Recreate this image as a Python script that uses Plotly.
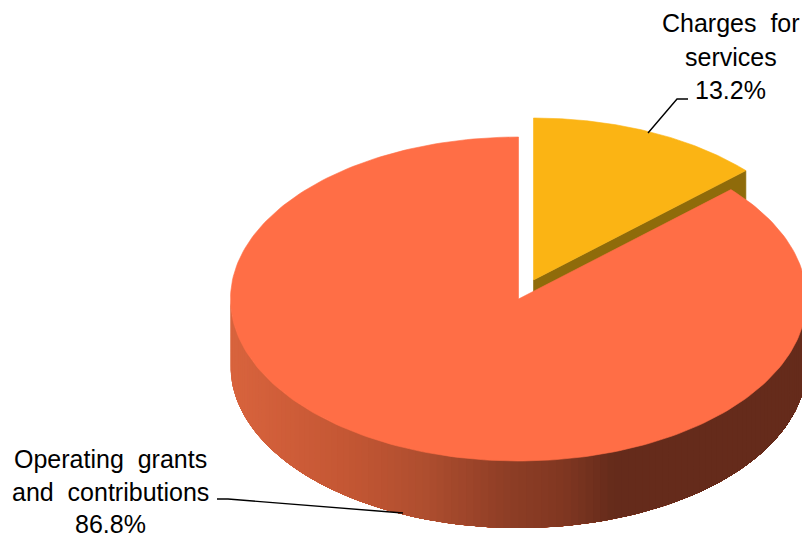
import math
import plotly.graph_objects as go

# Revenue shares
categories = ["Charges for services", "Operating grants and contributions"]
shares = [13.2, 86.8]
label_lines = [["Charges&nbsp;&nbsp;for", "services"], ["Operating&nbsp;&nbsp;grants", "and&nbsp;&nbsp;contributions"]]

# Colours
YELLOW, YELLOW_CUT = "#FBB414", "#8F6B0A"
ORANGE = "#FF6E46"
WALL_STOPS = [(231, (216, 99, 61)), (340, (197, 87, 52)), (420, (175, 78, 47)),
              (500, (143, 62, 38)), (560, (128, 55, 33)), (610, (101, 43, 27)), (806, (101, 43, 27))]

# Projected pie geometry, in page pixels
RX, RY, DEPTH = 288, 162, 67
ORANGE_C = (518.5, 299)
YELLOW_C = (533.5, 280)


def rim(center, deg):
    """Point on the top rim; degrees run clockwise from 12 o'clock."""
    a = math.radians(deg)
    return center[0] + RX * math.sin(a), center[1] - RY * math.cos(a)


def arc(center, start, end, n=240):
    pts = [rim(center, start + (end - start) * i / n) for i in range(n + 1)]
    return [p[0] for p in pts], [p[1] for p in pts]


def wall_colour(x):
    for (x0, c0), (x1, c1) in zip(WALL_STOPS, WALL_STOPS[1:]):
        if x <= x1:
            f = max(0, (x - x0) / (x1 - x0))
            return "rgb(%d,%d,%d)" % tuple(round(a + (b - a) * f) for a, b in zip(c0, c1))
    return "rgb(%d,%d,%d)" % WALL_STOPS[-1][1]


def poly(xs, ys, colour, edge=0.6):
    return go.Scatter(x=xs, y=ys, mode="lines", fill="toself", fillcolor=colour,
                      line=dict(color=colour, width=edge), hoverinfo="skip", showlegend=False)


fig = go.Figure()
split = 360 * shares[0] / sum(shares)

# Yellow slice: cut face first, then its top
cx, cy = rim(YELLOW_C, split)
fig.add_trace(poly([YELLOW_C[0], cx, cx, YELLOW_C[0], YELLOW_C[0]],
                   [YELLOW_C[1], cy, cy + DEPTH, YELLOW_C[1] + DEPTH, YELLOW_C[1]], YELLOW_CUT))
ax, ay = arc(YELLOW_C, 0, split)
fig.add_trace(poly([YELLOW_C[0]] + ax + [YELLOW_C[0]], [YELLOW_C[1]] + ay + [YELLOW_C[1]], YELLOW))

# Orange slice: the wall is painted left to right, each layer running on to the
# far end so that neighbouring shades leave no seams; then the top goes on
LAYERS = 120
for i in range(LAYERS):
    start = 270 - 180 * i / LAYERS
    wx, wy = arc(ORANGE_C, start, 90, n=LAYERS - i + 2)
    xs = wx + wx[::-1] + wx[:1]
    ys = wy + [v + DEPTH for v in wy[::-1]] + wy[:1]
    fig.add_trace(poly(xs, ys, wall_colour(rim(ORANGE_C, start)[0]), edge=0))
ax, ay = arc(ORANGE_C, split, 360)
fig.add_trace(poly([ORANGE_C[0]] + ax + [ORANGE_C[0]], [ORANGE_C[1]] + ay + [ORANGE_C[1]], ORANGE))

# Leader lines
for xs, ys in (([648, 677, 688], [133, 99, 99]), ([217, 228, 403], [499, 499, 513])):
    fig.add_trace(go.Scatter(x=xs, y=ys, mode="lines", line=dict(color="black", width=1.4),
                             hoverinfo="skip", showlegend=False))

# Labels, one annotation per line
FONT = dict(family="Liberation Sans", size=25, color="black")
placements = [(730.5, [23, 57, 90]), (110.5, [459, 492, 524])]
for lines, share, (x, ys) in zip(label_lines, shares, placements):
    for text, y in zip(lines + [f"{share:.1f}%"], ys):
        fig.add_annotation(x=x, y=y, text=text, showarrow=False, font=FONT,
                           xanchor="center", yanchor="middle")

fig.update_layout(
    width=802, height=541, margin=dict(l=0, r=0, t=0, b=0),
    paper_bgcolor="white", plot_bgcolor="white", showlegend=False,
    xaxis=dict(range=[0, 802], visible=False, fixedrange=True),
    yaxis=dict(range=[541, 0], visible=False, fixedrange=True),
)
fig.write_html("out.html", config=dict(displayModeBar=False))
